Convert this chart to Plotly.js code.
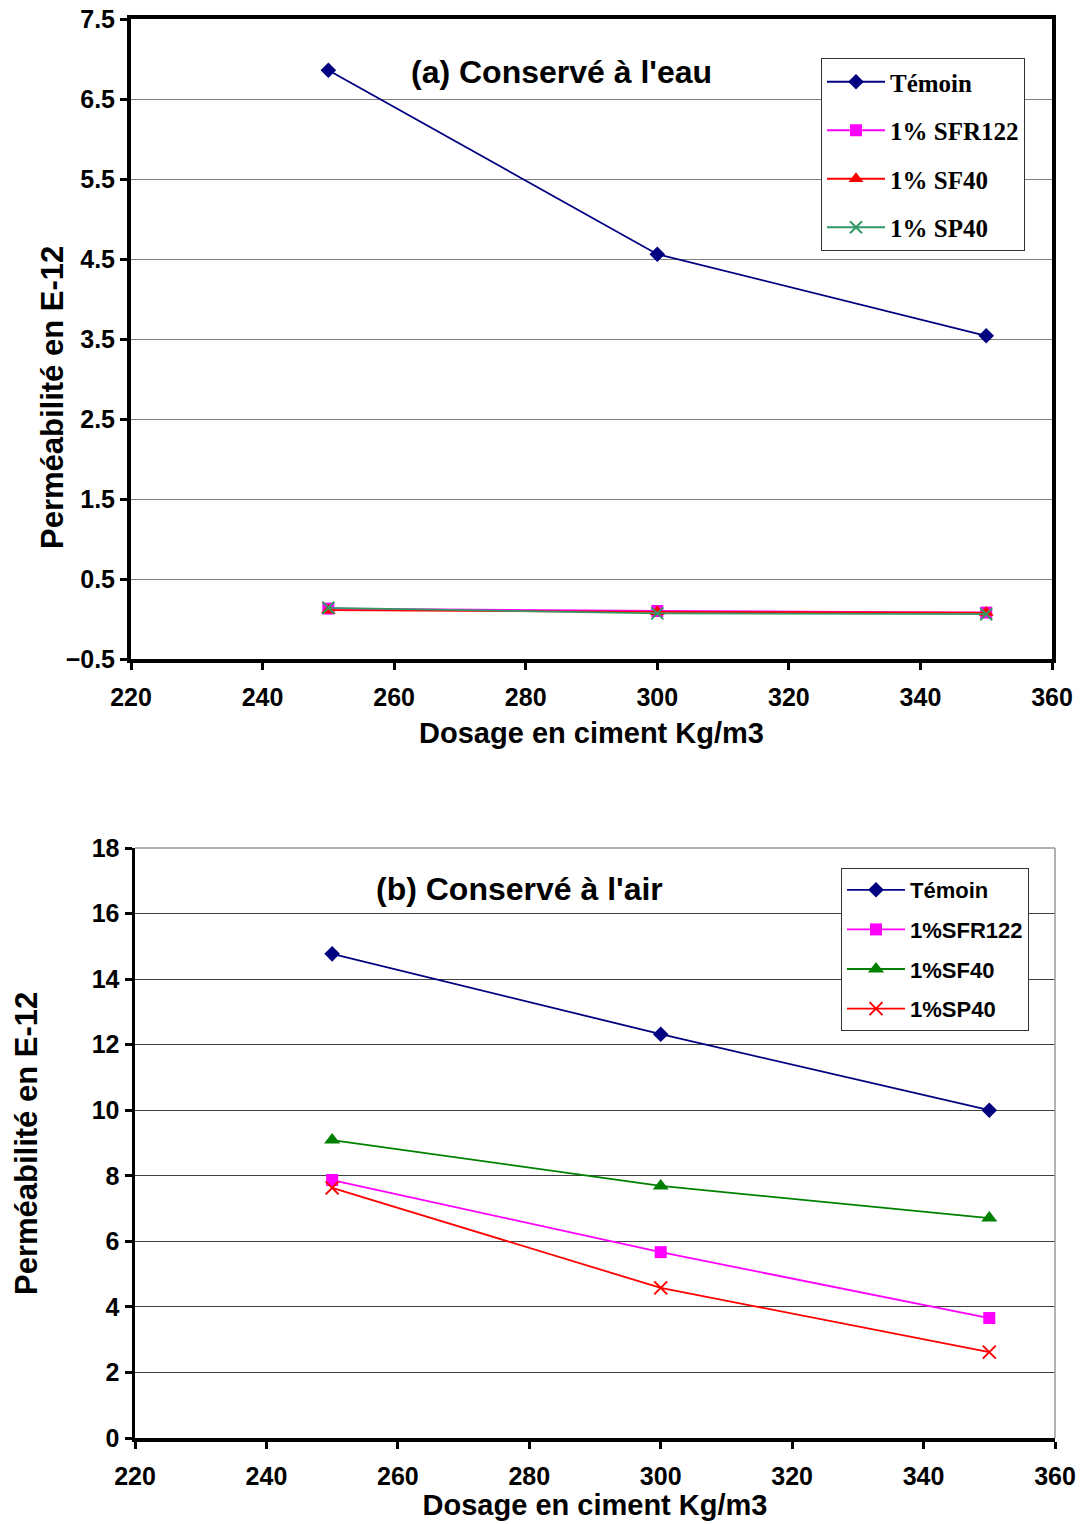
<!DOCTYPE html>
<html>
<head>
<meta charset="utf-8">
<script src="https://cdn.plot.ly/plotly-3.0.1.min.js"></script>
<style>
html,body{margin:0;padding:0;background:#fff;}
#chart{width:1080px;height:1524px;}
</style>
</head>
<body>
<div id="chart"></div>
<script>
// ----- Data -----
const dosage = [250, 300, 350];

// (a) Conservé à l'eau
const eauNames = ["Témoin", "1% SFR122", "1% SF40", "1% SP40"];
const eauTemoin = [6.86, 4.56, 3.54];
const eauSFR122 = [0.13, 0.10, 0.08];
const eauSF40   = [0.11, 0.09, 0.08];
const eauSP40   = [0.14, 0.07, 0.06];

// (b) Conservé à l'air
const airNames = ["Témoin", "1%SFR122", "1%SF40", "1%SP40"];
const airTemoin = [14.77, 12.32, 10.0];
const airSFR122 = [7.87, 5.67, 3.66];
const airSF40   = [9.09, 7.69, 6.71];
const airSP40   = [7.63, 4.58, 2.62];

const titleA = "(a) Conservé à l'eau";
const titleB = "(b) Conservé à l'air";
const xTitle = "Dosage en ciment Kg/m3";
const yTitle = "Perméabilité en E-12";

// ----- Styles -----
const NAVY = "#000080", MAG = "#FF00FF", RED = "#FF0000", GREEN = "#008000", SEA = "#339966";

function tr(x, y, name, color, symbol, size, xa, ya, leg, grp) {
  const isX = symbol.indexOf("x") === 0;
  return {
    x: x, y: y, name: name, type: "scatter", mode: "lines+markers",
    xaxis: xa, yaxis: ya, legend: leg, legendgroup: grp,
    line: {color: color, width: 1.8},
    marker: isX ? {symbol: "x-thin", size: size, line: {color: color, width: 2}, color: color}
                : {symbol: symbol, size: size, color: color, line: {width: 0}}
  };
}

const traces = [
  tr(dosage, eauTemoin, eauNames[0], NAVY, "diamond", 12, "x", "y", "legend", "a1"),
  tr(dosage, eauSFR122, eauNames[1], MAG, "square", 12, "x", "y", "legend", "a2"),
  tr(dosage, eauSF40, eauNames[2], RED, "triangle-up", 13, "x", "y", "legend", "a3"),
  tr(dosage, eauSP40, eauNames[3], SEA, "x", 12, "x", "y", "legend", "a4"),
  tr(dosage, airTemoin, airNames[0], NAVY, "diamond", 12, "x2", "y2", "legend2", "b1"),
  tr(dosage, airSFR122, airNames[1], MAG, "square", 12, "x2", "y2", "legend2", "b2"),
  tr(dosage, airSF40, airNames[2], GREEN, "triangle-up", 14, "x2", "y2", "legend2", "b3"),
  tr(dosage, airSP40, airNames[3], RED, "x", 13, "x2", "y2", "legend2", "b4")
];

const H = 1524, W = 1080;
const SANS = "Arial, Liberation Sans, sans-serif";
const tickFont = {family: SANS, size: 25, color: "#000", weight: "bold"};
const xTitleFont = {family: SANS, size: 29, color: "#000", weight: "bold"};
const yTitleFont = {family: SANS, size: 31, color: "#000", weight: "bold"};

const layout = {
  width: W, height: H,
  margin: {l: 0, r: 0, t: 0, b: 0},
  paper_bgcolor: "#fff", plot_bgcolor: "#fff",
  showlegend: true,
  font: {family: SANS, color: "#000"},
  xaxis: {
    domain: [131/W, 1052/W], anchor: "y",
    range: [220, 360], tick0: 220, dtick: 20, showgrid: false, zeroline: false,
    showline: true, linecolor: "#000", linewidth: 4, mirror: true,
    ticks: "outside", ticklen: 7, tickwidth: 3, tickcolor: "#000",
    tickfont: tickFont, ticklabelstandoff: 6,
    title: {text: xTitle, font: xTitleFont, standoff: 14}
  },
  yaxis: {
    domain: [1 - 659/H, 1 - 19/H], anchor: "x",
    range: [-0.5, 7.5], tick0: -0.5, dtick: 1, zeroline: false,
    showgrid: true, gridcolor: "#808080", gridwidth: 1,
    showline: true, linecolor: "#000", linewidth: 4, mirror: true,
    ticks: "outside", ticklen: 7, tickwidth: 3, tickcolor: "#000",
    tickfont: tickFont, tickformat: ".1f"
  },
  xaxis2: {
    domain: [135/W, 1055/W], anchor: "y2",
    range: [220, 360], tick0: 220, dtick: 20, showgrid: false, zeroline: false,
    showline: true, linecolor: "#000", linewidth: 3.5, mirror: false,
    ticks: "outside", ticklen: 7, tickwidth: 3, tickcolor: "#000",
    tickfont: tickFont, ticklabelstandoff: 6,
    title: {text: xTitle, font: xTitleFont, standoff: 2}
  },
  yaxis2: {
    domain: [1 - 1438/H, 1 - 848/H], anchor: "x2",
    range: [0, 18], tick0: 0, dtick: 2, zeroline: false,
    showgrid: true, gridcolor: "#404040", gridwidth: 1,
    showline: true, linecolor: "#000", linewidth: 3.5, mirror: false,
    ticks: "outside", ticklen: 7, tickwidth: 3, tickcolor: "#000",
    tickfont: tickFont
  },
  legend: {
    x: 821/W, y: 1 - 58/H, xanchor: "left", yanchor: "top",
    bgcolor: "#fff", bordercolor: "#333", borderwidth: 1,
    font: {family: "Liberation Serif, Times New Roman, serif", size: 25, color: "#000", weight: "bold"},
    traceorder: "grouped", tracegroupgap: 13, itemwidth: 58
  },
  legend2: {
    x: 841/W, y: 1 - 868/H, xanchor: "left", yanchor: "top",
    bgcolor: "#fff", bordercolor: "#333", borderwidth: 1,
    font: {family: SANS, size: 22, color: "#000", weight: "bold"},
    traceorder: "grouped", tracegroupgap: 8, itemwidth: 58
  },
  shapes: [
    {type: "line", xref: "x2 domain", yref: "y2 domain", x0: 0, x1: 1, y0: 1, y1: 1,
     line: {color: "#999", width: 1.5}, layer: "above"},
    {type: "line", xref: "x2 domain", yref: "y2 domain", x0: 1, x1: 1, y0: 0, y1: 1,
     line: {color: "#999", width: 1.5}, layer: "above"}
  ],
  annotations: [
    {text: titleA, xref: "paper", yref: "paper",
     x: 561/W, y: 1 - 72/H, xanchor: "center", yanchor: "middle", showarrow: false,
     font: {family: SANS, size: 32, color: "#000", weight: "bold"}},
    {text: titleB, xref: "paper", yref: "paper",
     x: 519/W, y: 1 - 889/H, xanchor: "center", yanchor: "middle", showarrow: false,
     font: {family: SANS, size: 32, color: "#000", weight: "bold"}},
    {text: yTitle, xref: "paper", yref: "paper",
     x: 52/W, y: 1 - 398/H, xanchor: "center", yanchor: "middle", showarrow: false,
     textangle: -90, font: yTitleFont},
    {text: yTitle, xref: "paper", yref: "paper",
     x: 26/W, y: 1 - 1144/H, xanchor: "center", yanchor: "middle", showarrow: false,
     textangle: -90, font: yTitleFont}
  ]
};

Plotly.newPlot("chart", traces, layout, {displayModeBar: false, staticPlot: true});
</script>
</body>
</html>
